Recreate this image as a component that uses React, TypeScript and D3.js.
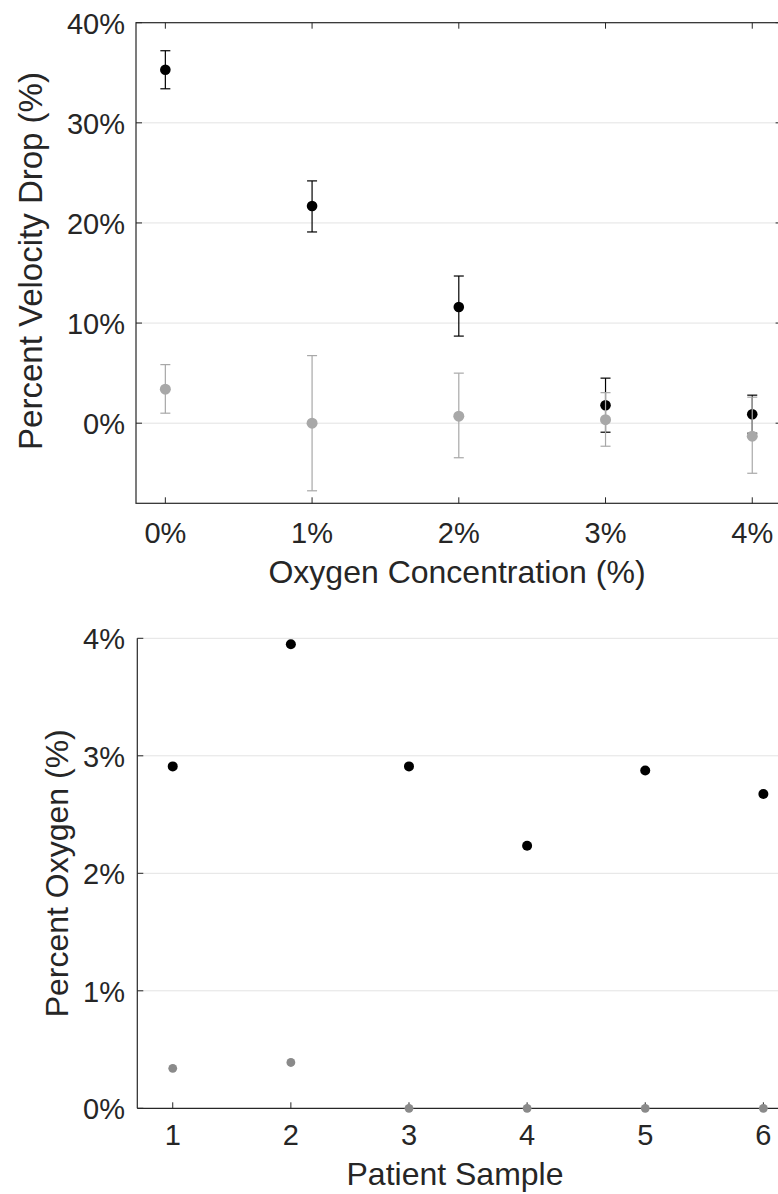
import React from 'react';
import * as d3 from 'd3';

const concTicks = [0, 1, 2, 3, 4];
const dropTicks = [0, 10, 20, 30, 40];

const dropBlack   = [35.3, 21.7, 11.6, 1.8, 0.9];
const dropBlackLo = [33.4, 19.1, 8.7, -0.9, -1.0];
const dropBlackHi = [37.2, 24.2, 14.7, 4.5, 2.8];

const dropGrey   = [3.4, 0.0, 0.7, 0.35, -1.3];
const dropGreyLo = [1.0, -6.75, -3.45, -2.3, -5.0];
const dropGreyHi = [5.85, 6.75, 5.0, 3.05, 2.6];

const samples = [1, 2, 3, 4, 5, 6];
const oxyTicks = [0, 1, 2, 3, 4];
const oxyBlack = [2.91, 3.95, 2.91, 2.235, 2.875, 2.675];
const oxyGrey  = [0.34, 0.39, 0, 0, 0, 0];
// ————————————————————————

const W = 778;
const H = 1194;
const FONT = '"Liberation Sans", Arial, Helvetica, sans-serif';
const AXIS = '#262626';
const GRID = '#e3e3e3';
const LIGHT = '#a8a8a8';
const MID = '#8a8a8a';
const TICK = 6;

const TopChart = () => {
  const x = d3.scaleLinear().domain([-0.2, 4.2]).range([136, 781.6]);
  const y = d3.scaleLinear().domain([-8, 40]).range([503.3, 22.7]);
  const [x0, x1] = x.range();
  const [y0, y1] = y.range();
  const cap = 5;

  const series = [
    { v: dropBlack, lo: dropBlackLo, hi: dropBlackHi, color: '#000', r: 5.3 },
    { v: dropGrey, lo: dropGreyLo, hi: dropGreyHi, color: LIGHT, r: 5.5 },
  ];

  return (
    <g>
      {dropTicks.filter(t => t < 40).map(t => (
        <line key={'g' + t} x1={x0} x2={x1} y1={y(t)} y2={y(t)} stroke={GRID} strokeWidth={1} />
      ))}
      {/* box */}
      <rect x={x0} y={y1} width={x1 - x0} height={y0 - y1} fill="none" stroke={AXIS} strokeWidth={1.2} />
      {concTicks.map(t => (
        <g key={'xt' + t}>
          <line x1={x(t)} x2={x(t)} y1={y0} y2={y0 - TICK} stroke={AXIS} />
          <line x1={x(t)} x2={x(t)} y1={y1} y2={y1 + TICK} stroke={AXIS} />
          <text x={x(t)} y={543} textAnchor="middle" fontSize={29} fill={AXIS}>{t}%</text>
        </g>
      ))}
      {dropTicks.map(t => (
        <g key={'yt' + t}>
          <line x1={x0} x2={x0 + TICK} y1={y(t)} y2={y(t)} stroke={AXIS} />
          <line x1={x1} x2={x1 - TICK} y1={y(t)} y2={y(t)} stroke={AXIS} />
          <text x={125} y={y(t) + 11} textAnchor="end" fontSize={29} fill={AXIS}>{t}%</text>
        </g>
      ))}
      {series.map((s, si) => (
        <g key={'s' + si}>
          {s.v.map((v, i) => {
            const cx = x(concTicks[i]);
            return (
              <g key={i}>
                <line x1={cx} x2={cx} y1={y(s.lo[i])} y2={y(s.hi[i])} stroke={s.color} strokeWidth={1.2} />
                <line x1={cx - cap} x2={cx + cap} y1={y(s.lo[i])} y2={y(s.lo[i])} stroke={s.color} strokeWidth={1.2} />
                <line x1={cx - cap} x2={cx + cap} y1={y(s.hi[i])} y2={y(s.hi[i])} stroke={s.color} strokeWidth={1.2} />
                <circle cx={cx} cy={y(v)} r={s.r} fill={s.color} />
              </g>
            );
          })}
        </g>
      ))}
      <text x={457} y={583} textAnchor="middle" fontSize={32} fill={AXIS}>Oxygen Concentration (%)</text>
      <text transform={`translate(42,${(y0 + y1) / 2 - 2}) rotate(-90)`} textAnchor="middle" fontSize={33} fill={AXIS}>
        Percent Velocity Drop (%)
      </text>
    </g>
  );
};

const BottomChart = () => {
  const x = d3.scaleLinear().domain([0.7, 6.3]).range([137.3, 798.8]);
  const y = d3.scaleLinear().domain([0, 4]).range([1108.3, 638.3]);
  const [x0] = x.range();
  const [y0, y1] = y.range();

  return (
    <g>
      {oxyTicks.filter(t => t > 0).map(t => (
        <line key={'g' + t} x1={x0} x2={W} y1={y(t)} y2={y(t)} stroke={GRID} strokeWidth={1} />
      ))}
      <line x1={x0} x2={x0} y1={y0} y2={y1} stroke={AXIS} strokeWidth={1.2} />
      <line x1={x0} x2={W} y1={y0} y2={y0} stroke={AXIS} strokeWidth={1.2} />
      {oxyTicks.map(t => (
        <g key={'yt' + t}>
          <line x1={x0} x2={x0 + TICK} y1={y(t)} y2={y(t)} stroke={AXIS} />
          <text x={125} y={y(t) + 11} textAnchor="end" fontSize={29} fill={AXIS}>{t}%</text>
        </g>
      ))}
      {samples.map(t => (
        <g key={'xt' + t}>
          <line x1={x(t)} x2={x(t)} y1={y0} y2={y0 - TICK} stroke={AXIS} />
          <text x={x(t)} y={1145} textAnchor="middle" fontSize={29} fill={AXIS}>{t}</text>
        </g>
      ))}
      {oxyBlack.map((v, i) => (
        <circle key={'b' + i} cx={x(samples[i])} cy={y(v)} r={5} fill="#000" />
      ))}
      {oxyGrey.map((v, i) => (
        <circle key={'m' + i} cx={x(samples[i])} cy={y(v)} r={4.4} fill={MID} />
      ))}
      <text x={455} y={1185} textAnchor="middle" fontSize={32} fill={AXIS}>Patient Sample</text>
      <text transform={`translate(68,${(y0 + y1) / 2}) rotate(-90)`} textAnchor="middle" fontSize={32} fill={AXIS}>
        Percent Oxygen (%)
      </text>
    </g>
  );
};

export default function App() {
  return (
    <svg
      width={W}
      height={H}
      viewBox={`0 0 ${W} ${H}`}
      style={{ position: 'absolute', left: 0, top: 0, background: '#fff', fontFamily: FONT }}
    >
      <TopChart />
      <BottomChart />
    </svg>
  );
}
